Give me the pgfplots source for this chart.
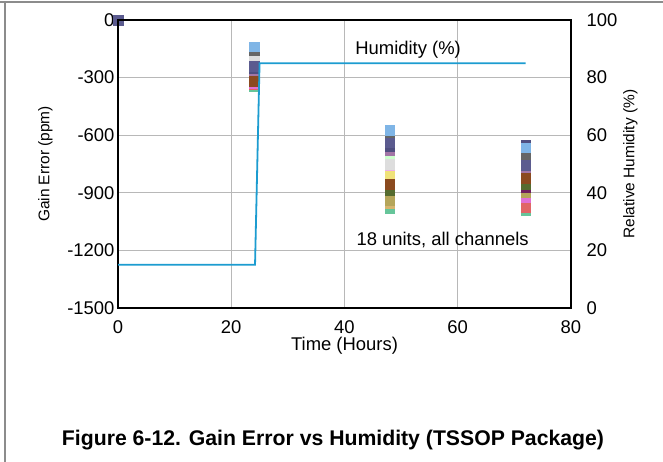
\documentclass[border=0pt]{standalone}
\usepackage{pgfplots}
\pgfplotsset{compat=1.18}
\usepackage{fontspec}
\setmainfont{Liberation Sans}

\definecolor{gridgray}{HTML}{B8B8B8}
\definecolor{framegray}{HTML}{8C8C8C}
\definecolor{humid}{HTML}{1C9CD0}
\definecolor{c1}{HTML}{5B5B8F}
\definecolor{c2}{HTML}{7FB5E6}
\definecolor{c3}{HTML}{DDDDDD}
\definecolor{c4}{HTML}{666666}
\definecolor{c5}{HTML}{A276A6}
\definecolor{c6}{HTML}{F5C28F}
\definecolor{c7}{HTML}{CCFFCC}
\definecolor{c8}{HTML}{EEAEE8}
\definecolor{c9}{HTML}{F0E27A}
\definecolor{c10}{HTML}{8B4A1F}
\definecolor{c11}{HTML}{556B2F}
\definecolor{c12}{HTML}{6E1F5E}
\definecolor{c13}{HTML}{B5A55A}
\definecolor{c14}{HTML}{E070D6}
\definecolor{c15}{HTML}{D6B46E}
\definecolor{c16}{HTML}{E06666}
\definecolor{c17}{HTML}{66C59A}
\definecolor{c18}{HTML}{4F4F80}

\pgfplotsset{
  unit/.style={only marks, mark=square*, mark size=4.8bp, color=#1},
  every axis/.append style={
    /pgf/number format/assume math mode=true,
    /pgf/number format/1000 sep={},
  },
}

\begin{document}
\begin{tikzpicture}
\useasboundingbox (0,0) rectangle (663bp,462bp);
\fill[white] (0,0) rectangle (663bp,462bp);
\draw[framegray, line width=1.5bp] (0,460bp) -- (663bp,460bp);
\draw[framegray, line width=1.5bp] (5bp,0) -- (5bp,460bp);

\begin{axis}[
    at={(118bp,154bp)}, anchor=south west,
    scale only axis, width=453bp, height=288bp,
    xmin=0, xmax=80, ymin=-1500, ymax=0,
    xtick={0,20,...,80}, ytick={-1500,-1200,...,0},
    tick style={draw=none},
    xmajorgrids, ymajorgrids,
    major grid style={draw=gridgray, line width=1.2bp},
    axis line style={black, line width=2.5bp},
    clip=false,
    ticklabel style={font=\fontsize{18.5}{21}\selectfont},
    xticklabel style={yshift=-9bp},
    xlabel={Time (Hours)},
    xlabel style={font=\fontsize{18.5}{21}\selectfont,
      at={(axis description cs:0.5,0)}, anchor=north, yshift=-26bp},
    ylabel={Gain Error (ppm)},
    ylabel style={font=\fontsize{15.5}{18}\selectfont, yshift=8bp},
]
\addplot[unit=c6]  coordinates {(0,0) (24,-180) (48,-698) (72,-800)};
\addplot[unit=c7]  coordinates {(0,0) (24,-230) (48,-724) (72,-780)};
\addplot[unit=c8]  coordinates {(0,0) (24,-200) (48,-781) (72,-900)};
\addplot[unit=c9]  coordinates {(0,0) (24,-250) (48,-812) (72,-860)};
\addplot[unit=c17] coordinates {(0,0) (24,-345) (48,-980) (72,-990)};
\addplot[unit=c15] coordinates {(0,0) (24,-325) (48,-955) (72,-950)};
\addplot[unit=c16] coordinates {(0,0) (24,-335) (48,-930) (72,-975)};
\addplot[unit=c14] coordinates {(0,0) (24,-330) (48,-911) (72,-922)};
\addplot[unit=c13] coordinates {(0,0) (24,-310) (48,-940) (72,-896)};
\addplot[unit=c12] coordinates {(0,0) (24,-280) (48,-870) (72,-870)};
\addplot[unit=c11] coordinates {(0,0) (24,-300) (48,-890) (72,-854)};
\addplot[unit=c5]  coordinates {(0,0) (24,-275) (48,-677) (72,-786)};
\addplot[unit=c3]  coordinates {(0,0) (24,-190) (48,-750) (72,-690)};
\addplot[unit=c4]  coordinates {(0,0) (24,-160) (48,-600) (72,-718)};
\addplot[unit=c18] coordinates {(0,0) (24,-250) (48,-660) (72,-650)};
\addplot[unit=c2]  coordinates {(0,0) (24,-140) (48,-573) (72,-665)};
\addplot[unit=c10] coordinates {(0,0) (24,-320) (48,-854) (72,-823)};
\addplot[unit=c1]  coordinates {(0,0) (24,-240) (48,-640) (72,-755)};
\node[anchor=west, font=\fontsize{18.5}{21}\selectfont] at (axis cs:41.3,-156) {Humidity (\%)};
\node[anchor=west, font=\fontsize{18.5}{21}\selectfont] at (axis cs:41.5,-1146) {18 units, all channels};
\end{axis}

\begin{axis}[
    at={(118bp,154bp)}, anchor=south west,
    scale only axis, width=453bp, height=288bp,
    xmin=0, xmax=80, ymin=0, ymax=100,
    xtick=\empty, ytick={0,20,...,100},
    ytick pos=right, yticklabel pos=right,
    tick style={draw=none},
    axis line style={black, line width=2.5bp},
    ticklabel style={font=\fontsize{18.5}{21}\selectfont},
    yticklabel style={xshift=12bp},
    ylabel={Relative Humidity (\%)},
    ylabel style={font=\fontsize{15.5}{18}\selectfont, yshift=1bp},
]
\addplot[humid, line width=1.8bp] coordinates {(0,15) (24.2,15) (25,85) (72,85)};
\end{axis}

\node[font=\bfseries\fontsize{21.3}{25}\selectfont] at (333bp,22bp) {Figure 6-12. Gain Error vs Humidity (TSSOP Package)};
\end{tikzpicture}
\end{document}
